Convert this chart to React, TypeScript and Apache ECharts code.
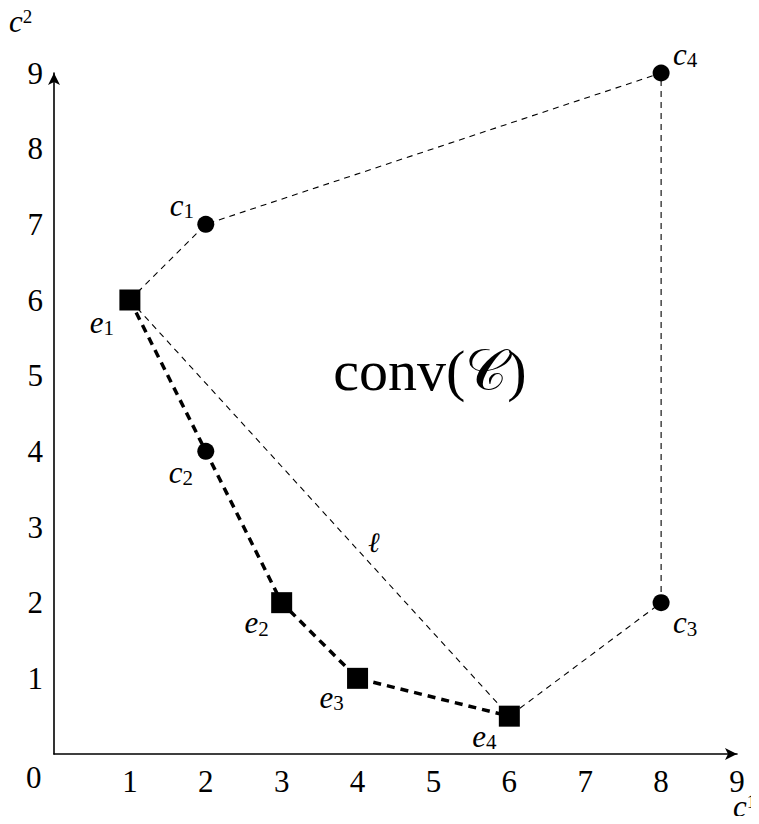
import React, { useEffect, useRef } from "react";
import * as echarts from "echarts";

const xTicks = [0, 1, 2, 3, 4, 5, 6, 7, 8, 9];
const yTicks = [0, 1, 2, 3, 4, 5, 6, 7, 8, 9];

const cNames = ["1", "2", "3", "4"];
const cX = [2, 2, 8, 8];
const cY = [7, 4, 2, 9];

const eNames = ["1", "2", "3", "4"];
const eX = [1, 3, 4, 6];
const eY = [6, 2, 1, 0.5];

// hull boundary: e1 -> c1 -> c4 -> c3 -> e4
const hullX = [1, 2, 8, 8, 6];
const hullY = [6, 7, 9, 2, 0.5];
// thick path: e1 -> c2 -> e2 -> e3 -> e4
const pathX = [1, 2, 3, 4, 6];
const pathY = [6, 4, 2, 1, 0.5];
// line l: e1 -> e4
const ellX = [1, 6];
const ellY = [6, 0.5];

const cOffsets = [[-24, -19], [-25, 21], [24, 20], [24, -19]];
const eOffsets = [[-28, 22], [-25, 20], [-26, 19], [-25, 20]];

const SERIF = "'Liberation Serif', 'DejaVu Serif', serif";
const FS = 31;
const SUB = 21;

const rich = {
  i: { fontFamily: SERIF, fontStyle: "italic", fontSize: FS, color: "#000" },
  s: { fontFamily: SERIF, fontSize: SUB, color: "#000", padding: [12, 0, 0, 0] },
};
const richSup = {
  i: { fontFamily: SERIF, fontStyle: "italic", fontSize: FS, color: "#000", padding: [11, 0, 0, 0] },
  u: { fontFamily: SERIF, fontSize: 19, color: "#000" },
};

export default function App() {
  const ref = useRef<HTMLDivElement>(null);
  useEffect(() => {
    if (!ref.current) return;
    const chart = echarts.init(ref.current, null, { renderer: "svg" });
    const zip = (xs: number[], ys: number[]) => xs.map((x, i) => [x, ys[i]]);
    const mkPts = (names: string[], xs: number[], ys: number[], letter: string, offs: number[][]) =>
      xs.map((x, i) => ({
        value: [x, ys[i]],
        label: {
          show: true,
          position: "inside",
          offset: offs[i],
          color: "#000",
          formatter: `{i|${letter}}{s|${names[i]}}`,
          rich,
        },
      }));
    chart.setOption({
      animation: false,
      backgroundColor: "#fff",
      grid: { left: 54, right: 22, top: 73, bottom: 70, containLabel: false },
      xAxis: {
        type: "value",
        min: 0,
        max: 9,
        interval: 1,
        axisLine: {
          show: true,
          symbol: ["none", "arrow"],
          symbolSize: [9, 12],
          lineStyle: { color: "#000", width: 1.6 },
        },
        axisTick: { show: false },
        splitLine: { show: false },
        axisLabel: {
          margin: 12,
          fontFamily: SERIF,
          fontSize: FS,
          color: "#000",
          formatter: (v: number) => (v === 0 ? "" : String(xTicks[v])),
        },
      },
      yAxis: {
        type: "value",
        min: 0,
        max: 9,
        interval: 1,
        axisLine: {
          show: true,
          symbol: ["none", "arrow"],
          symbolSize: [9, 12],
          lineStyle: { color: "#000", width: 1.6 },
        },
        axisTick: { show: false },
        splitLine: { show: false },
        axisLabel: {
          margin: 11,
          fontFamily: SERIF,
          fontSize: FS,
          color: "#000",
          formatter: (v: number) => (v === 0 ? "" : String(yTicks[v])),
        },
      },
      series: [
        {
          type: "line",
          data: zip(hullX, hullY),
          symbol: "none",
          lineStyle: { color: "#000", width: 1.1, type: [6, 5] },
          z: 2,
        },
        {
          type: "line",
          data: zip(ellX, ellY),
          symbol: "none",
          lineStyle: { color: "#000", width: 1.1, type: [6, 5] },
          z: 2,
        },
        {
          type: "line",
          data: zip(pathX, pathY),
          symbol: "none",
          lineStyle: { color: "#000", width: 3.5, type: [8, 6] },
          z: 3,
        },
        {
          type: "scatter",
          data: mkPts(cNames, cX, cY, "c", cOffsets),
          symbol: "circle",
          symbolSize: 17,
          itemStyle: { color: "#000", opacity: 1 },
          z: 4,
        },
        {
          type: "scatter",
          data: mkPts(eNames, eX, eY, "e", eOffsets),
          symbol: "rect",
          symbolSize: 21,
          itemStyle: { color: "#000", opacity: 1 },
          z: 4,
        },
      ],
      graphic: [
        {
          type: "text",
          x: 26,
          y: 762,
          style: { text: "0", font: `${FS}px ${SERIF}`, fill: "#000" },
        },
        {
          type: "text",
          x: 9,
          y: -5,
          style: { text: "{i|c}{u|2}", rich: richSup, fill: "#000" },
        },
        {
          type: "text",
          x: 733,
          y: 780,
          style: { text: "{i|c}{u|1}", rich: richSup, fill: "#000" },
        },
        {
          type: "text",
          x: 368,
          y: 528,
          style: { text: "ℓ", font: `italic 28px ${SERIF}`, fill: "#000" },
        },
        {
          type: "text",
          x: 430,
          y: 370,
          style: {
            text: "conv(𝒞)",
            font: `58px ${SERIF}`,
            fill: "#000",
            align: "center",
            verticalAlign: "middle",
          },
        },
      ],
    });
    return () => chart.dispose();
  }, []);
  return <div ref={ref} style={{ width: 759, height: 824, margin: -8 }} />;
}
